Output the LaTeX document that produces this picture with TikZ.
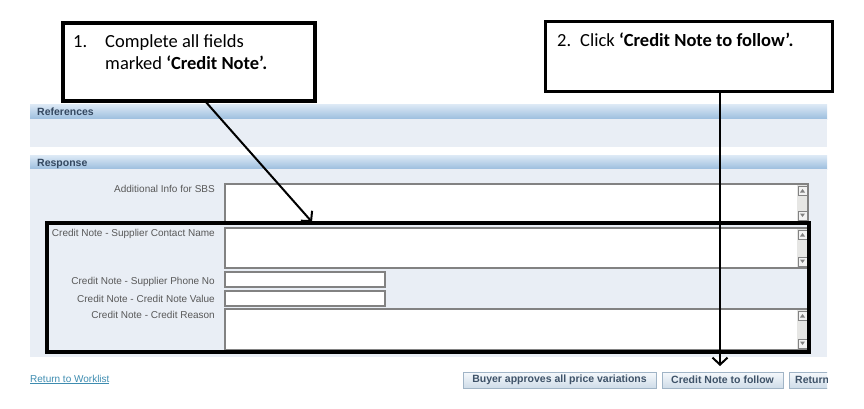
\documentclass[tikz,border=0pt]{standalone}
\usepackage{fontspec}
\setmainfont{Carlito}
\newfontfamily\uifont{Liberation Sans}
\usetikzlibrary{arrows.meta}

\definecolor{panelbg}{RGB}{233,238,245}
\definecolor{headtop}{RGB}{222,234,246}
\definecolor{headbot}{RGB}{156,190,222}
\definecolor{headtext}{RGB}{52,72,96}
\definecolor{labeltext}{RGB}{88,88,88}
\definecolor{fieldline}{RGB}{130,130,130}
\definecolor{linktext}{RGB}{62,140,176}
\definecolor{btntop}{RGB}{246,249,252}
\definecolor{btnbot}{RGB}{206,220,232}
\definecolor{btnline}{RGB}{160,180,198}
\definecolor{btntext}{RGB}{62,82,104}
\definecolor{scrollbg}{RGB}{230,230,228}

\tikzset{
  callout/.style={draw=black,line width=3.5pt,fill=white},
  calltext/.style={font=\fontsize{18.5}{22.5}\selectfont,inner sep=0pt},
  sechead/.style={font=\uifont\bfseries\fontsize{10.5}{12}\selectfont,text=headtext,inner sep=0pt},
  fieldlabel/.style={font=\uifont\fontsize{10}{12}\selectfont,text=labeltext,inner sep=0pt},
  field/.style={draw=fieldline,line width=1.2pt,fill=white},
  btn/.style={draw=btnline,top color=btntop,bottom color=btnbot,
    font=\uifont\bfseries\fontsize{10.5}{12}\selectfont,text=btntext,
    minimum height=16pt,inner sep=0pt},
  pointer/.style={line width=2pt,-{Straight Barb[length=7pt,width=15pt,line width=2pt]}},
}

\begin{document}
\begin{tikzpicture}[x=1pt,y=-1pt]
\useasboundingbox (0,0) rectangle (864,408);
% page bars
\shade[top color=headtop,bottom color=headbot] (30,104) rectangle (827,119);
\fill[panelbg] (30,119) rectangle (827,147);
\shade[top color=headtop,bottom color=headbot] (30,155) rectangle (827,169);
\fill[panelbg] (30,169) rectangle (827,357);
\node[sechead,anchor=base west] (refs) at (37,115) {References};
\node[sechead,anchor=base west] (resp) at (37,166) {Response};
% fields
\draw[field] (225,184) rectangle (808,222);
\draw[field] (225,228) rectangle (808,268);
\draw[field] (225,272) rectangle (385,287);
\draw[field] (225,291) rectangle (385,306);
\draw[field] (225,309) rectangle (808,350);
\foreach \ya/\yb in {184/222,228/268,309/350}{
  \fill[scrollbg] (797,\ya+1) rectangle (807,\yb-1);
  \draw[fieldline,fill=white!90!gray] (798,\ya+2) rectangle (807,\ya+11);
  \draw[fieldline,fill=white!90!gray] (798,\yb-11) rectangle (807,\yb-2);
  \fill[gray] (800,\ya+8.5) -- (805,\ya+8.5) -- (802.5,\ya+5) -- cycle;
  \fill[gray] (800,\yb-8.5) -- (805,\yb-8.5) -- (802.5,\yb-5) -- cycle;
}
\node[fieldlabel,anchor=base east] (lsbs) at (215,192) {Additional Info for SBS};
\node[fieldlabel,anchor=base east] (lname) at (215,236) {Credit Note - Supplier Contact Name};
\node[fieldlabel,anchor=base east] (lphone) at (215,284) {Credit Note - Supplier Phone No};
\node[fieldlabel,anchor=base east] (lvalue) at (215,302) {Credit Note - Credit Note Value};
\node[fieldlabel,anchor=base east] (lreason) at (215,318) {Credit Note - Credit Reason};
% box around credit note fields
\draw[line width=4pt] (47,223) rectangle (809,352);
% bottom row
\node[fieldlabel,text=linktext,anchor=base west] (back) at (30,382) {\underline{Return to Worklist}};
\node[btn,minimum width=193pt] (bbuyer) at (559.5,380) {Buyer approves all price variations};
\node[btn,minimum width=121pt] (bnote) at (722.5,380) {Credit Note to follow};
\begin{scope}
\clip (785,365) rectangle (827,395);
\node[btn,inner xsep=6pt,anchor=west] (bret) at (789,380) {Return};
\end{scope}
% callouts
\node[callout,minimum width=252pt,minimum height=78pt,anchor=north west] (step1) at (61,21) {};
\node[calltext,anchor=base west] (txt1) at (73,47)
  {\begin{tabular}[t]{@{}l@{\hspace{18pt}}l@{}}1. & Complete all fields\\ & marked \textbf{‘Credit Note’.}\end{tabular}};
\node[callout,line width=3pt,minimum width=287pt,minimum height=70pt,anchor=north west] (step2) at (543.5,19.5) {};
\node[calltext,anchor=base west] (txt2) at (557,46) {2.\hspace{9pt}Click \textbf{‘Credit Note to follow’.}};
\coordinate (from1) at (205,101);
\coordinate (to1) at (312,222);
\coordinate (from2) at (720,91);
\coordinate (to2) at (720,366);
\draw[pointer] (from1) -- (to1);
\draw[pointer] (from2) -- (to2);
\end{tikzpicture}
\end{document}
